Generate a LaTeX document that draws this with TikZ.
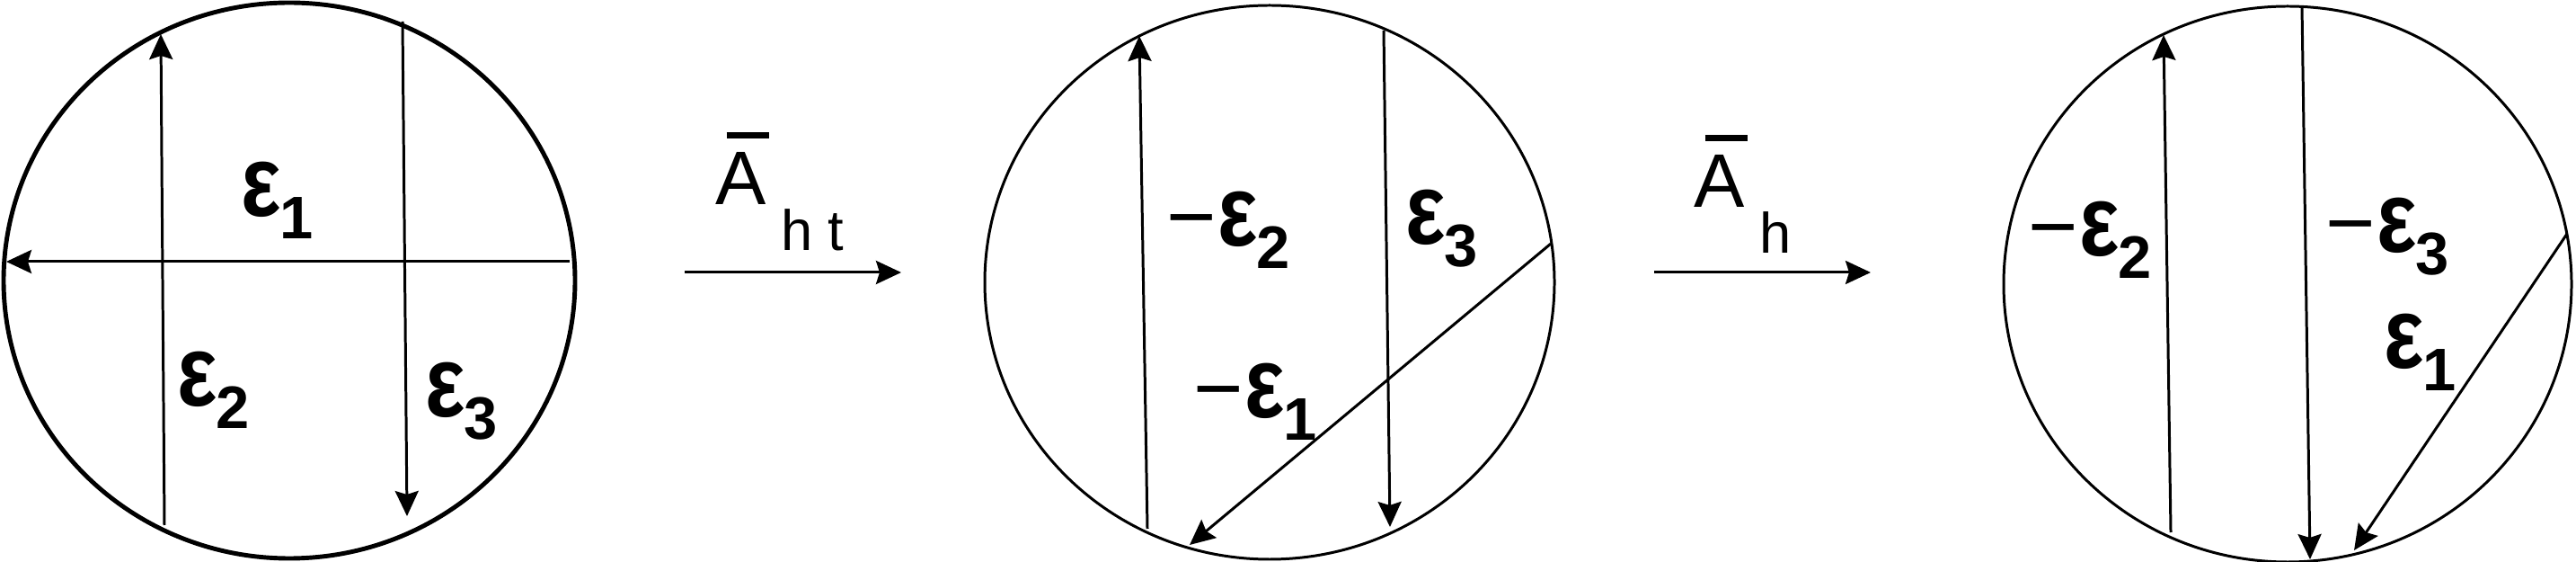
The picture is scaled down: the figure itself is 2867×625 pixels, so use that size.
\documentclass[tikz,border=0pt]{standalone}
\usepackage{fontspec}
\setmainfont{Liberation Sans}
\usepackage{tikz}
\usetikzlibrary{arrows.meta}

\newcommand{\epslab}[1]{{\fontsize{31}{31}\selectfont\bfseries\scalebox{0.86}[1.03]{ε}}\kern-0.5pt\raisebox{-7pt}{\fontsize{19}{19}\selectfont\bfseries #1}}
\newcommand{\minuslab}{{\fontsize{27}{27}\selectfont −}\kern0.5pt}
\newcommand{\oplab}[1]{{\fontsize{24}{24}\selectfont\rlap{\kern0.12cm\raisebox{0.74cm}{\rule{0.47cm}{0.07cm}}}A}\kern0.16cm\raisebox{-0.5cm}{\fontsize{18}{18}\selectfont #1}}

\begin{document}
\begin{tikzpicture}[ x={(0.01cm,0cm)}, y={(0cm,-0.01cm)}, >={Stealth[length=0.28cm, width=0.26cm, inset=0.04cm]},
    chord/.style={->, line width=0.85pt}, lab/.style={anchor=base west, inner sep=0pt} ]
    \useasboundingbox (0,0) rectangle (2867,625);

    % Circle 1
    \draw[line width=1.4pt] (322,312) ellipse [x radius=318, y radius=309];
    \coordinate (a1s) at (634,291); \coordinate (a1e) at (7,291);
    \coordinate (a2s) at (183,584); \coordinate (a2e) at (179,38);
    \coordinate (a3s) at (448,24);  \coordinate (a3e) at (453,574);
    \draw[chord] (a1s) -- (a1e);
    \draw[chord] (a2s) -- (a2e);
    \draw[chord] (a3s) -- (a3e);
    \node[lab] (ae1) at (268,241) {\epslab{1}};
    \node[lab] (ae2) at (197,452) {\epslab{2}};
    \node[lab] (ae3) at (473,464) {\epslab{3}};

    % --- A_ht ---
    \coordinate (t1s) at (762,303); \coordinate (t1e) at (1003,303);
    \draw[->, line width=0.85pt] (t1s) -- (t1e);
    \node[lab] (op1) at (796,228) {\oplab{h t}};

    % Circle 2
    \draw[line width=0.85pt] (1413,314) ellipse [x radius=317, y radius=308];
    \coordinate (b2s) at (1277,588); \coordinate (b2e) at (1268,40);
    \coordinate (b3s) at (1540,34);  \coordinate (b3e) at (1547,586);
    \coordinate (b1s) at (1726,271); \coordinate (b1e) at (1324,606);
    \draw[chord] (b2s) -- (b2e);
    \draw[chord] (b3s) -- (b3e);
    \draw[chord] (b1s) -- (b1e);
    \node[lab] (be2) at (1298,274) {\minuslab\epslab{2}};
    \node[lab] (be3) at (1564,272) {\epslab{3}};
    \node[lab] (be1) at (1328,465) {\minuslab\epslab{1}};

    % --- A_h ---
    \coordinate (t2s) at (1841,303); \coordinate (t2e) at (2082,303);
    \draw[->, line width=0.85pt] (t2s) -- (t2e);
    \node[lab] (op2) at (1885,231) {\oplab{h}};

    % Circle 3
    \draw[line width=0.85pt] (2546,316) ellipse [x radius=316, y radius=309];
    \coordinate (c2s) at (2416,592); \coordinate (c2e) at (2408,39);
    \coordinate (c3s) at (2562,8);   \coordinate (c3e) at (2571,622);
    \coordinate (c1s) at (2857,260); \coordinate (c1e) at (2620,612);
    \draw[chord] (c2s) -- (c2e);
    \draw[chord] (c3s) -- (c3e);
    \draw[chord] (c1s) -- (c1e);
    \node[lab] (ce2) at (2257,285) {\minuslab\epslab{2}};
    \node[lab] (ce3) at (2588,281) {\minuslab\epslab{3}};
    \node[lab] (ce1) at (2653,410) {\epslab{1}};
\end{tikzpicture}
\end{document}
